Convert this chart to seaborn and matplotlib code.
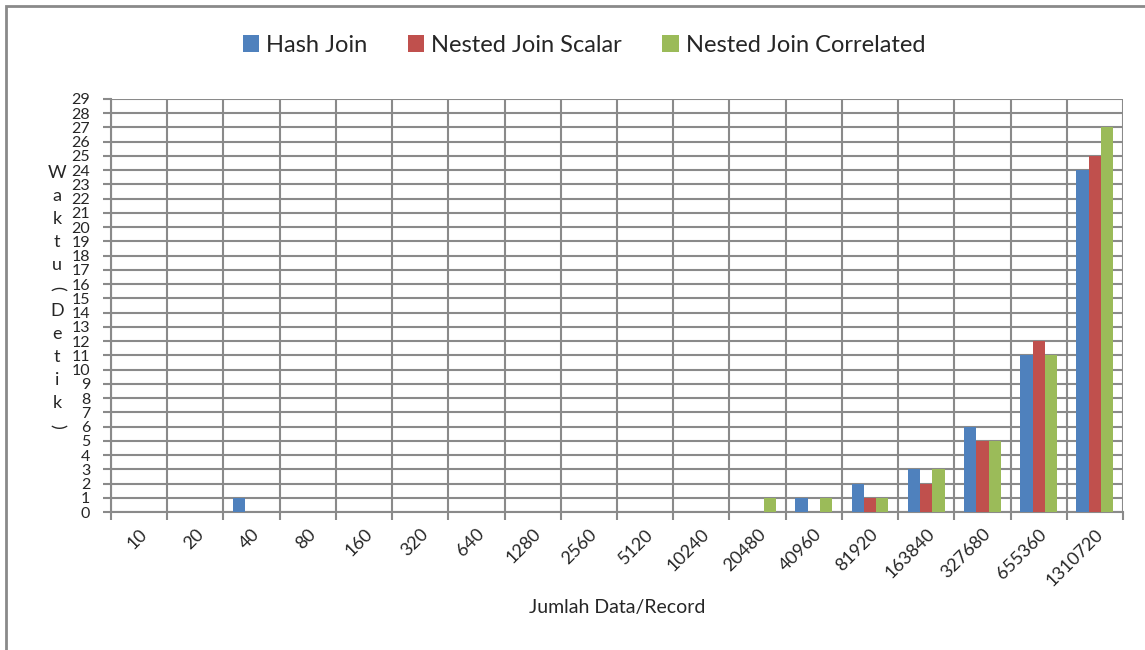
import pandas as pd
import matplotlib.pyplot as plt
import seaborn as sns
from matplotlib.patches import Rectangle

records = ["10", "20", "40", "80", "160", "320", "640", "1280", "2560", "5120",
           "10240", "20480", "40960", "81920", "163840", "327680", "655360", "1310720"]
hash_join = [0, 0, 1, 0, 0, 0, 0, 0, 0, 0, 0, 0, 1, 2, 3, 6, 11, 24]
nested_scalar = [0, 0, 0, 0, 0, 0, 0, 0, 0, 0, 0, 0, 0, 1, 2, 5, 12, 25]
nested_corr = [0, 0, 0, 0, 0, 0, 0, 0, 0, 0, 0, 1, 1, 1, 3, 5, 11, 27]
series = ["Hash Join", "Nested Join Scalar", "Nested Join Correlated"]
colors = ["#4F81BD", "#C0504D", "#9BBB59"]

df = pd.DataFrame({
    "record": records * 3,
    "value": hash_join + nested_scalar + nested_corr,
    "series": [s for s in series for _ in records],
})

sns.set_style("white")
plt.rcParams["font.family"] = ["Lato", "DejaVu Sans"]
grid_col = "#8a8a8a"

fig = plt.figure(figsize=(11.45, 6.5), dpi=100)
ax = fig.add_axes([111 / 1145, 1 - 512 / 650, 1012 / 1145, 413 / 650])

sns.barplot(data=df, x="record", y="value", hue="series", palette=colors,
            width=0.655, gap=0, saturation=1, linewidth=0, ax=ax, zorder=3)

ax.set_xlim(-0.5, len(records) - 0.5)
ax.set_ylim(0, 29)
ax.set_yticks(range(0, 30))
ax.set_xticks(range(len(records)))
ax.set_xticklabels(records, rotation=45, ha="right", rotation_mode="anchor", fontsize=13)
ax.set_xticks([i - 0.5 for i in range(len(records) + 1)], minor=True)
ax.tick_params(axis="x", which="major", length=0, pad=10)
ax.tick_params(axis="x", which="minor", length=6, width=1.5, color=grid_col, direction="out", bottom=True)
ax.tick_params(axis="y", length=6, width=1.5, color=grid_col, direction="out", left=True, labelsize=11.5, pad=9)
ax.grid(True, axis="y", color=grid_col, linewidth=1.5, zorder=0)
ax.grid(True, axis="x", which="minor", color=grid_col, linewidth=1.5, zorder=0)
ax.grid(False, axis="x", which="major")
ax.set_axisbelow(True)
for side in ["top", "right"]:
    ax.spines[side].set_visible(False)
for side in ["left", "bottom"]:
    ax.spines[side].set_color(grid_col)
    ax.spines[side].set_linewidth(1.5)

ax.set_xlabel("")
ax.set_ylabel("")
fig.text(617 / 1145, 1 - 607 / 650, "Jumlah Data/Record", ha="center", va="center", fontsize=14)

# stacked vertical y-axis label
label_chars = list("Waktu(Detik)")
for i, ch in enumerate(label_chars):
    rot = 270 if ch in "()" else 0
    fig.text(57 / 1145, 1 - (173 + i * 23) / 650, ch, ha="center", va="center",
             fontsize=13, rotation=rot)

handles, labels = ax.get_legend_handles_labels()
ax.legend_.remove()
fig.legend(handles, labels, loc="center", bbox_to_anchor=(584 / 1145, 1 - 45 / 650),
           ncol=3, frameon=False, fontsize=17, handlelength=0.7, handleheight=0.7,
           handletextpad=0.3, columnspacing=1.7)

fig.patches.append(Rectangle((6 / 1145, -0.1), 1.2, 1 - 6 / 650 + 0.1, transform=fig.transFigure,
                             fill=False, edgecolor="#8a8a8a", linewidth=2))

fig.savefig("out.png", dpi=100)
